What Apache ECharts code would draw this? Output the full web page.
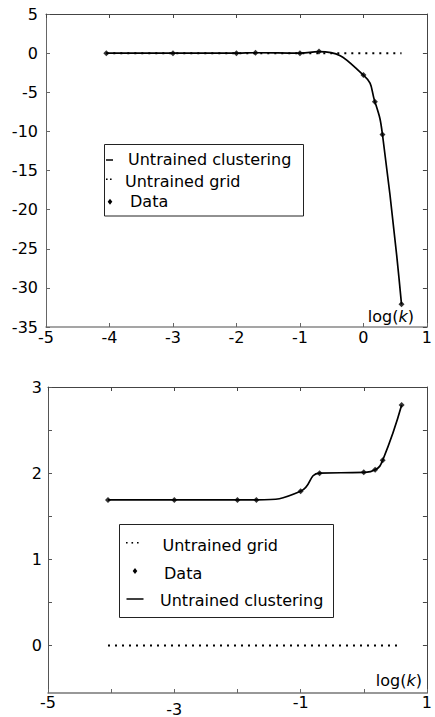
<!DOCTYPE html>
<html style="height: 100%">
<head>
<meta charset="utf-8">
<script src="https://cdn.jsdelivr.net/npm/echarts@6/dist/echarts.min.js"></script>
</head>
<body style="height: 100%; margin: 0; background: #fff">
<div id="main" style="width: 435px; height: 717px;"></div>
<script type="text/javascript">
// log(k) positions of the measured points
var logK = [-4.05, -3, -2, -1.7, -1, -0.7, 0, 0.18, 0.3, 0.6];
// upper panel
var clusterTop = [0, 0, 0, 0.05, 0, 0.2, -2.8, -6.2, -10.4, -32.1];
var gridTop = [0, 0, 0, 0, 0, 0, 0, 0, 0, 0];
// lower panel
var clusterBottom = [1.69, 1.69, 1.69, 1.69, 1.79, 2.0, 2.01, 2.04, 2.15, 2.79];
var gridBottom = [0, 0, 0, 0, 0, 0, 0, 0, 0, 0];
// tick labels
var xLabelsBottom = [-5, -3, -1, 1];
var yTicksBottom = [0, 0.5, 1, 1.5, 2, 2.5, 3];
var yLabelsBottom = [0, 1, 2, 3];

var FONT = 'DejaVu Sans';

function pairs(xs, ys) {
    var out = [];
    for (var i = 0; i < xs.length; i++) out.push([xs[i], ys[i]]);
    return out;
}

function frameAxis(grid, pos, extra) {
    var a = {
        type: 'value',
        gridIndex: grid,
        position: pos,
        axisLine: {show: true, onZero: false, lineStyle: {color: '#444', width: 1}},
        axisTick: {show: true, inside: true, length: 4, lineStyle: {color: '#444'}},
        axisLabel: {show: false},
        splitLine: {show: false}
    };
    for (var k in extra) a[k] = extra[k];
    return a;
}

var nameRich = {
    i: {fontStyle: 'italic', fontSize: 16, fontFamily: FONT, color: '#000'}
};

var dom = document.getElementById('main');
var myChart = echarts.init(dom, null, {renderer: 'svg'});

var option = {
    animation: false,
    backgroundColor: '#fff',
    grid: [
        {left: 46, top: 14, width: 389, height: 313},
        {left: 48, top: 387, width: 389, height: 311}
    ],
    xAxis: [
        {
            type: 'value', gridIndex: 0, min: -5, max: 1, interval: 1,
            name: 'log({i|k})', nameLocation: 'end', nameGap: -13,
            nameTextStyle: {align: 'right', verticalAlign: 'bottom', padding: [0, 0, 3, 0],
                fontSize: 16, fontFamily: FONT, color: '#000', rich: nameRich},
            axisLine: {onZero: false, lineStyle: {color: '#888', width: 1.5}},
            axisTick: {inside: true, length: 4, lineStyle: {color: '#666'}},
            axisLabel: {margin: 2, color: '#000', fontSize: 16, fontFamily: FONT},
            splitLine: {show: false}
        },
        {
            type: 'value', gridIndex: 1, min: -5, max: 1, interval: 1,
            name: 'log({i|k})', nameLocation: 'end', nameGap: -5,
            nameTextStyle: {align: 'right', verticalAlign: 'bottom', padding: [0, 0, 5, 0],
                fontSize: 16, fontFamily: FONT, color: '#000', rich: nameRich},
            axisLine: {onZero: false, lineStyle: {color: '#777', width: 1.5}},
            axisTick: {inside: true, length: 4, lineStyle: {color: '#666'}},
            axisLabel: {
                margin: 1, color: '#000', fontSize: 16, fontFamily: FONT,
                customValues: xLabelsBottom,
                formatter: function (v) { return v === -3 ? '{low|-3}' : String(v); },
                rich: {low: {padding: [7, 0, 0, 0], fontSize: 16, fontFamily: FONT, color: '#000'}}
            },
            splitLine: {show: false}
        },
        frameAxis(0, 'top', {min: -5, max: 1, interval: 1}),
        frameAxis(1, 'top', {min: -5, max: 1, interval: 1})
    ],
    yAxis: [
        {
            type: 'value', gridIndex: 0, min: -35, max: 5, interval: 5,
            axisLine: {show: true, onZero: false, lineStyle: {color: '#666', width: 1}},
            axisTick: {show: true, inside: true, length: 4, lineStyle: {color: '#666'}},
            axisLabel: {margin: 8, color: '#000', fontSize: 16, fontFamily: FONT},
            splitLine: {show: false}
        },
        {
            type: 'value', gridIndex: 1, min: -0.55, max: 3,
            axisLine: {show: true, onZero: false, lineStyle: {color: '#555', width: 1}},
            axisTick: {show: true, inside: true, length: 4, customValues: yTicksBottom, lineStyle: {color: '#555'}},
            axisLabel: {margin: 6, color: '#000', fontSize: 16, fontFamily: FONT, customValues: yLabelsBottom},
            splitLine: {show: false}
        },
        frameAxis(0, 'right', {min: -35, max: 5, interval: 5}),
        frameAxis(1, 'right', {min: -0.55, max: 3,
            axisTick: {show: true, inside: true, length: 4, customValues: yTicksBottom, lineStyle: {color: '#444'}}})
    ],
    series: [
        {
            name: 'Untrained clustering', type: 'line', xAxisIndex: 0, yAxisIndex: 0,
            data: pairs(logK, clusterTop), smooth: 0.5, showSymbol: false,
            lineStyle: {color: '#000', width: 1.7}
        },
        {
            name: 'Untrained grid', type: 'line', xAxisIndex: 0, yAxisIndex: 0,
            data: pairs(logK, gridTop), showSymbol: false,
            lineStyle: {color: '#000', width: 2, type: [2, 5]}
        },
        {
            name: 'Data', type: 'scatter', xAxisIndex: 0, yAxisIndex: 0,
            data: pairs(logK, clusterTop), symbol: 'diamond', symbolSize: 6,
            itemStyle: {color: '#000'}
        },
        {
            name: 'Untrained clustering', type: 'line', xAxisIndex: 1, yAxisIndex: 1,
            data: pairs(logK, clusterBottom), smooth: 0.5, showSymbol: false,
            lineStyle: {color: '#000', width: 1.7}
        },
        {
            name: 'Untrained grid', type: 'line', xAxisIndex: 1, yAxisIndex: 1,
            data: pairs(logK, gridBottom), showSymbol: false,
            lineStyle: {color: '#000', width: 2, type: [2, 5]}
        },
        {
            name: 'Data', type: 'scatter', xAxisIndex: 1, yAxisIndex: 1,
            data: pairs(logK, clusterBottom), symbol: 'diamond', symbolSize: 6,
            itemStyle: {color: '#000'}
        }
    ],
    // boxed legends, drawn by hand to follow the original layout
    graphic: [
        // upper legend
        {type: 'rect', z: 100, shape: {x: 104.5, y: 144.5, width: 199, height: 71.5},
            style: {fill: '#fff', stroke: '#222', lineWidth: 1}},
        {type: 'line', z: 101, shape: {x1: 106, y1: 160, x2: 113, y2: 160},
            style: {stroke: '#000', lineWidth: 1.5}},
        {type: 'rect', z: 101, shape: {x: 106, y: 178.5, width: 1.6, height: 1.6}, style: {fill: '#000'}},
        {type: 'rect', z: 101, shape: {x: 110, y: 178.5, width: 1.6, height: 1.6}, style: {fill: '#000'}},
        {type: 'polygon', z: 101, shape: {points: [[110, 198.7], [112.3, 201.7], [110, 204.7], [107.7, 201.7]]},
            style: {fill: '#000'}},
        {type: 'text', z: 101, x: 128, y: 159.5,
            style: {text: 'Untrained clustering', fontSize: 16, fontFamily: FONT, fill: '#000', verticalAlign: 'middle'}},
        {type: 'text', z: 101, x: 125, y: 181.5,
            style: {text: 'Untrained grid', fontSize: 16, fontFamily: FONT, fill: '#000', verticalAlign: 'middle'}},
        {type: 'text', z: 101, x: 130, y: 201,
            style: {text: 'Data', fontSize: 16, fontFamily: FONT, fill: '#000', verticalAlign: 'middle'}},
        // lower legend
        {type: 'rect', z: 100, shape: {x: 119.5, y: 524.5, width: 214, height: 93},
            style: {fill: '#fff', stroke: '#222', lineWidth: 1}},
        {type: 'rect', z: 101, shape: {x: 126, y: 542, width: 1.6, height: 1.6}, style: {fill: '#000'}},
        {type: 'rect', z: 101, shape: {x: 131.5, y: 542, width: 1.6, height: 1.6}, style: {fill: '#000'}},
        {type: 'rect', z: 101, shape: {x: 137, y: 542, width: 1.6, height: 1.6}, style: {fill: '#000'}},
        {type: 'polygon', z: 101, shape: {points: [[135, 568], [137.3, 571], [135, 574], [132.7, 571]]},
            style: {fill: '#000'}},
        {type: 'line', z: 101, shape: {x1: 126.5, y1: 599, x2: 143.5, y2: 599},
            style: {stroke: '#000', lineWidth: 1.5}},
        {type: 'text', z: 101, x: 162.5, y: 545,
            style: {text: 'Untrained grid', fontSize: 16, fontFamily: FONT, fill: '#000', verticalAlign: 'middle'}},
        {type: 'text', z: 101, x: 164, y: 573,
            style: {text: 'Data', fontSize: 16, fontFamily: FONT, fill: '#000', verticalAlign: 'middle'}},
        {type: 'text', z: 101, x: 160, y: 600,
            style: {text: 'Untrained clustering', fontSize: 16, fontFamily: FONT, fill: '#000', verticalAlign: 'middle'}}
    ]
};

if (option && typeof option === 'object') {
    myChart.setOption(option, true);
}
</script>
</body>
</html>
